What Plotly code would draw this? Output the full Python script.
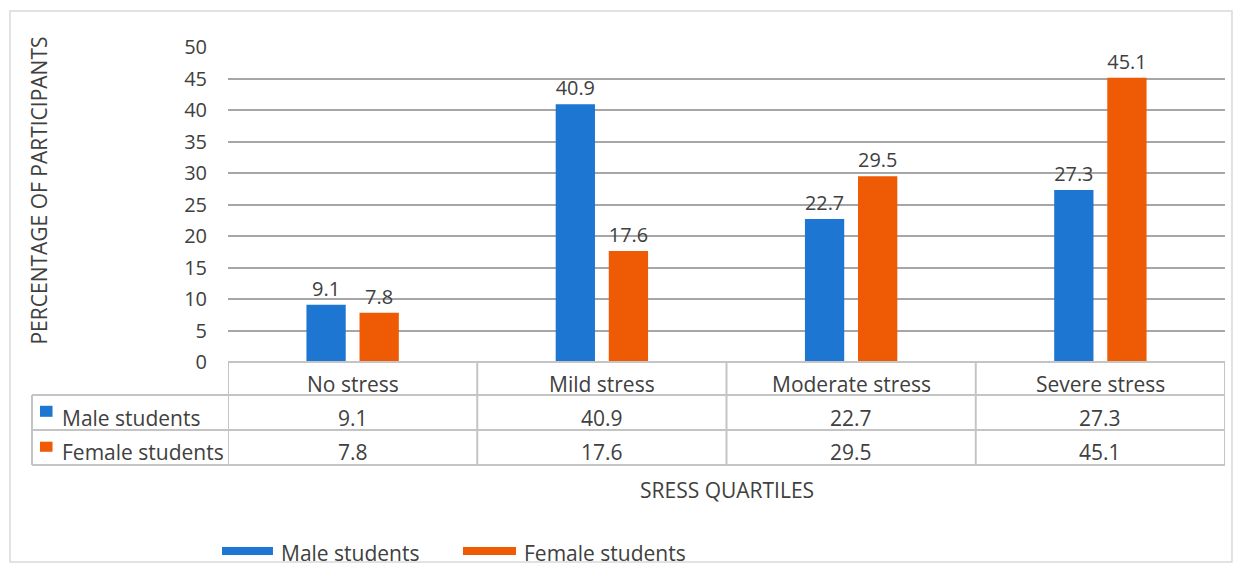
import plotly.graph_objects as go

categories = ["No stress", "Mild stress", "Moderate stress", "Severe stress"]
male = [9.1, 40.9, 22.7, 27.3]
female = [7.8, 17.6, 29.5, 45.1]
series_names = ["Male students", "Female students"]
y_ticks = [0, 5, 10, 15, 20, 25, 30, 35, 40, 45, 50]

BLUE = "#1c76d2"
ORANGE = "#ef5a05"
TXT = "#404040"
GRID = "#a6a6a6"
TBL = "#c4c4c4"
FONT = "Open Sans"
FS = 21
colors = [BLUE, ORANGE]

fig = go.Figure()
for name, vals, col in [(series_names[0], male, BLUE), (series_names[1], female, ORANGE)]:
    fig.add_trace(go.Bar(
        x=categories, y=vals, name=name, marker=dict(color=col, line=dict(width=0)),
        text=[f"{v:.1f}" for v in vals], textposition="outside",
        textfont=dict(size=20, color=TXT, family=FONT), cliponaxis=False,
        showlegend=False,
    ))

# table geometry (paper y)
y_rows = [0, -0.1048, -0.2159, -0.327]
x_left = -0.1966
shapes = []
shapes.append(dict(type="line", xref="paper", yref="paper", x0=0, x1=1, y0=0, y1=0,
                   line=dict(color=TBL, width=2)))
for yy in y_rows[1:]:
    shapes.append(dict(type="line", xref="paper", yref="paper", x0=x_left, x1=1, y0=yy, y1=yy,
                       line=dict(color=TBL, width=2)))
shapes.append(dict(type="line", xref="paper", yref="paper", x0=x_left, x1=x_left,
                   y0=y_rows[1], y1=y_rows[3], line=dict(color=TBL, width=2)))
for i in range(len(categories) + 1):
    xb = i - 0.5
    shapes.append(dict(type="line", xref="x", yref="paper", x0=xb, x1=xb,
                       y0=0, y1=y_rows[3], line=dict(color=TBL, width=2)))
# small colour keys in the row headers
for (y0, y1, col) in [(-0.174, -0.139, BLUE), (-0.285, -0.253, ORANGE)]:
    shapes.append(dict(type="rect", xref="paper", yref="paper",
                       x0=-0.1886, x1=-0.1760, y0=y0, y1=y1,
                       fillcolor=col, line=dict(width=0)))
# legend swatches (bottom)
for (x0, x1), col in zip([(-0.006, 0.0451), (0.2357, 0.2889)], colors):
    shapes.append(dict(type="rect", xref="paper", yref="paper", x0=x0, x1=x1,
                       y0=-0.6127, y1=-0.5873, fillcolor=col, line=dict(width=0)))
# outer frame
shapes.append(dict(type="rect", xref="paper", yref="paper", x0=-0.2187, x1=1.007,
                   y0=-0.635, y1=1.114, line=dict(color="#d9d9d9", width=1.5)))

annotations = []
for i, c in enumerate(categories):
    for yy, txt in [(-0.0698, c), (-0.1778, f"{male[i]:.1f}"), (-0.2873, f"{female[i]:.1f}")]:
        annotations.append(dict(x=c, xref="x", y=yy, yref="paper", text=txt, showarrow=False,
                                font=dict(size=FS, color=TXT, family=FONT), yanchor="middle"))
for yy, nm in [(-0.1778, series_names[0]), (-0.2873, series_names[1])]:
    annotations.append(dict(x=-0.1685, xref="paper", y=yy, yref="paper", text=nm, showarrow=False,
                            xanchor="left", yanchor="middle", font=dict(size=FS, color=TXT, family=FONT)))
# legend labels
for xx, nm in zip([0.0512, 0.2949], series_names):
    annotations.append(dict(x=xx, xref="paper", y=-0.606, yref="paper", text=nm, showarrow=False,
                            xanchor="left", yanchor="middle", font=dict(size=FS, color=TXT, family=FONT)))
annotations.append(dict(x=0.5, xref="paper", y=-0.405, yref="paper", text="SRESS QUARTILES",
                        showarrow=False, font=dict(size=21, color=TXT, family=FONT), yanchor="middle"))
annotations.append(dict(x=-0.190, xref="paper", y=0.543, yref="paper", text="PERCENTAGE OF PARTICIPANTS",
                        showarrow=False, textangle=-90, font=dict(size=21, color=TXT, family=FONT),
                        xanchor="center", yanchor="middle"))

fig.update_layout(
    width=1241, height=566,
    margin=dict(l=228, r=16, t=47, b=204, autoexpand=False),
    paper_bgcolor="white", plot_bgcolor="white",
    barmode="group", bargap=0.574, bargroupgap=0.26,
    font=dict(family=FONT, color=TXT, size=FS),
    showlegend=False,
    xaxis=dict(range=[-0.5, 3.5], showticklabels=False, showgrid=False, zeroline=False,
               showline=False, ticks=""),
    yaxis=dict(range=[0, 50], tickvals=y_ticks, showgrid=True, gridcolor=GRID, gridwidth=2,
               zeroline=False, showline=False, ticks="", ticklabelstandoff=20,
               tickfont=dict(size=20, color=TXT, family=FONT)),
    shapes=shapes, annotations=annotations,
)

fig.write_html("out.html", config={"displayModeBar": False},
               post_script="document.body.style.margin='0';document.body.style.overflow='hidden';")
